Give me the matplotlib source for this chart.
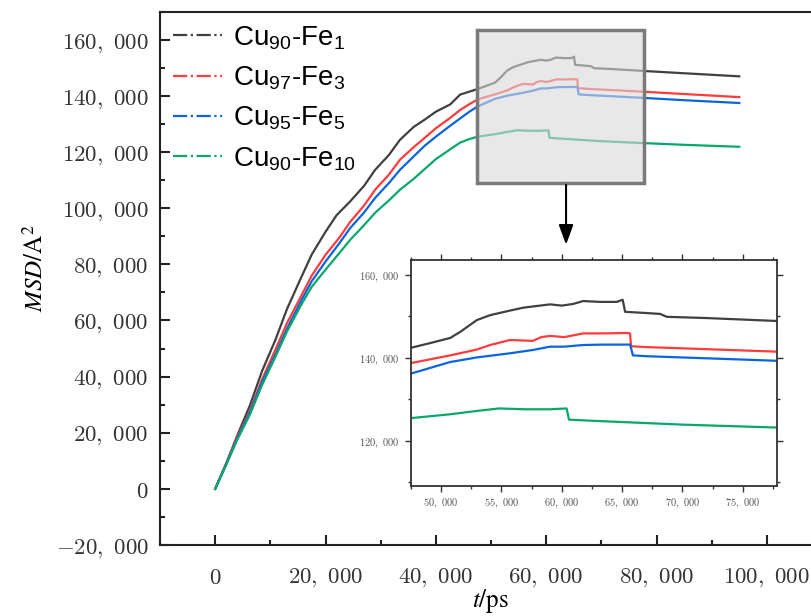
import matplotlib
matplotlib.use("Agg")
import matplotlib.pyplot as plt
from matplotlib.ticker import MultipleLocator, FuncFormatter
from matplotlib.patches import Rectangle

plt.rcParams['mathtext.fontset'] = 'cm'
plt.rcParams['mathtext.rm'] = 'Liberation Sans'

labels = [r"Cu$_{90}$-Fe$_{1}$", r"Cu$_{97}$-Fe$_{3}$", r"Cu$_{95}$-Fe$_{5}$", r"Cu$_{90}$-Fe$_{10}$"]
colors = ['#404040', '#ff3b3b', '#0a64e0', '#07a86a']

t_fe1 = [0, 2000, 4000, 6350, 8500, 10900, 13000, 15400, 17500, 20000, 22000, 24500, 27000, 29000,
         31500, 33500, 36000, 38000, 40000, 42600, 44400, 46000, 47600, 49000, 50750, 51600, 52950,
         54060, 55700, 56800, 59030, 60000, 60940, 61770, 63170, 64550, 65050, 65250, 66500, 68150,
         68700, 72000, 77800, 85000, 95000]
msd_fe1 = [0, 9000, 19000, 30000, 42000, 53000, 64000, 74500, 83500, 91600, 97500, 102500, 108000, 113700,
           119000, 124400, 129000, 131600, 134400, 137000, 140500, 141500, 142500, 143500, 144800, 146300, 149100,
           150300, 151400, 152100, 152900, 152600, 153000, 153700, 153500, 153500, 154000, 151100, 150900, 150600,
           149900, 149600, 148900, 148100, 147000]

t_fe3 = [0, 2000, 4000, 6350, 8500, 10900, 13000, 15400, 17500, 20000, 22500, 24500, 27000, 29000,
         31500, 33500, 36000, 38000, 40000, 42600, 44400, 46000, 47600, 50750, 52950, 54060, 55700,
         57600, 58300, 59030, 60200, 61770, 63500, 65400, 65660, 65740, 67000, 70000, 77800, 85000, 95000]
msd_fe3 = [0, 9000, 18500, 28000, 39000, 49500, 59000, 68000, 76000, 83400, 89500, 95200, 101000, 106600,
           112000, 117300, 121800, 125100, 128500, 132200, 135000, 137000, 138800, 140600, 142000, 143100, 144300,
           144100, 145000, 145300, 145000, 145900, 145900, 146000, 145900, 142800, 142600, 142300, 141500, 140700, 139600]

t_fe5 = [0, 2000, 4000, 6350, 8500, 10900, 13000, 15400, 17500, 20000, 22500, 24500, 27000, 29000,
         31500, 33500, 36000, 38000, 40000, 42600, 44400, 46000, 47600, 50750, 52950, 55700, 57600,
         59030, 60200, 61770, 63500, 65660, 65900, 67000, 70000, 77800, 85000, 95000]
msd_fe5 = [0, 8800, 18000, 27500, 38000, 47800, 57000, 66300, 74000, 81000, 87500, 93000, 98500, 103700,
           109000, 113700, 118500, 122300, 125500, 129400, 132000, 134300, 136300, 139000, 140100, 141100, 141900,
           142700, 142700, 143100, 143200, 143200, 140600, 140400, 140100, 139300, 138500, 137500]

t_fe10 = [0, 2000, 4000, 6350, 8500, 10900, 13000, 15400, 17500, 20000, 22500, 24500, 27000, 29000,
          31500, 33500, 36000, 38000, 40000, 42600, 44400, 46000, 47600, 50750, 52950, 54800, 57000,
          59030, 60400, 60600, 62000, 66000, 70000, 77800, 85000, 95000]
msd_fe10 = [0, 8600, 17500, 26700, 37000, 47000, 56000, 64900, 72000, 78100, 84000, 88800, 94000, 98400,
            102800, 106600, 110500, 114000, 117500, 121000, 123400, 124600, 125500, 126400, 127200, 127800, 127600,
            127600, 127800, 125100, 124900, 124400, 123900, 123200, 122600, 121900]

series = [(t_fe1, msd_fe1), (t_fe3, msd_fe3), (t_fe5, msd_fe5), (t_fe10, msd_fe10)]

main_xticks = [0, 20000, 40000, 60000, 80000, 100000]
main_yticks = [-20000, 0, 20000, 40000, 60000, 80000, 100000, 120000, 140000, 160000]
inset_xticks = [50000, 55000, 60000, 65000, 70000, 75000]
inset_yticks = [120000, 140000, 160000]
zoom_box = (47500, 77800, 109100, 163600)


def fmt(v, pos=None):
    v = int(round(v))
    if v == 0:
        return r"$0$"
    s = f"{abs(v):,}".replace(",", r",\ ")
    return r"$" + ("-" if v < 0 else "") + s + r"$"


fig = plt.figure(figsize=(8.11, 6.16), dpi=100)
ax = fig.add_axes([160/811, 1-545/616, 651/811, (545-11.8)/616])

for (t, m), c, lab in zip(series, colors, labels):
    ax.plot(t, m, color=c, lw=1.6, label=lab)

ax.set_xlim(-10000, 108000)
ax.set_ylim(-20000, 170000)
ax.set_xticks(main_xticks)
ax.set_yticks(main_yticks)
ax.xaxis.set_minor_locator(MultipleLocator(10000))
ax.yaxis.set_minor_locator(MultipleLocator(10000))
ax.xaxis.set_major_formatter(FuncFormatter(fmt))
ax.yaxis.set_major_formatter(FuncFormatter(fmt))
ax.tick_params(which='both', direction='in', width=1.5, colors='#222222', labelcolor='#333333')
ax.tick_params(which='major', length=7, labelsize=16.5)
ax.tick_params(which='minor', length=3.5)
ax.tick_params(axis='y', pad=8)
ax.tick_params(axis='x', pad=15)
ax.spines['right'].set_visible(False)
for s in ['left', 'bottom', 'top']:
    ax.spines[s].set_linewidth(1.5)
    ax.spines[s].set_color('#222222')

yl = ax.set_ylabel(r"$\mathit{MSD}/\mathrm{A}^{2}$", fontsize=18)
yl.set_math_fontfamily('stix')
ax.yaxis.set_label_coords(-0.172, 0.52)
xl = ax.set_xlabel(r"$t/\mathrm{ps}$", fontsize=18)
xl.set_math_fontfamily('stix')
ax.xaxis.set_label_coords(0.507, -0.079)

leg = ax.legend(loc='upper left', bbox_to_anchor=(0.02, 0.977), frameon=False, fontsize=20,
                handlelength=1.75, handletextpad=0.4, labelspacing=0.45, borderaxespad=0, borderpad=0)
for line in leg.get_lines():
    line.set_linestyle('-.')
    line.set_linewidth(1.6)
for txt in leg.get_texts():
    txt.set_fontfamily('Liberation Sans')
    txt.set_math_fontfamily('custom')

x0, x1, y0, y1 = zoom_box
ax.add_patch(Rectangle((x0, y0), x1 - x0, y1 - y0, facecolor=(0.85, 0.85, 0.85, 0.6),
                       edgecolor='#7a7a7a', lw=2.5, zorder=5))
ax.annotate('', xy=(63600, 87000), xytext=(63600, 108300),
            arrowprops=dict(arrowstyle='-|>,head_length=0.6,head_width=0.22', mutation_scale=20,
                            color='black', lw=1.5, shrinkA=0, shrinkB=0), zorder=6)

ins = fig.add_axes([411/811, 1-486/616, (776.5-411)/811, (486-260)/616])
for (t, m), c in zip(series, colors):
    ins.plot(t, m, color=c, lw=1.6)
ins.set_xlim(x0, x1)
ins.set_ylim(y0, y1)
ins.set_xticks(inset_xticks)
ins.set_yticks(inset_yticks)
ins.xaxis.set_minor_locator(MultipleLocator(2500))
ins.yaxis.set_minor_locator(MultipleLocator(10000))
ins.xaxis.set_major_formatter(FuncFormatter(fmt))
ins.yaxis.set_major_formatter(FuncFormatter(fmt))
ins.tick_params(which='both', direction='out', top=True, right=True, width=1.0,
                colors='#333333', labelcolor='#555555')
ins.tick_params(which='major', length=4, labelsize=7.5, pad=4)
ins.tick_params(which='minor', length=2)
for s in ins.spines.values():
    s.set_linewidth(1.3)
    s.set_color('#333333')

fig.savefig('out.png', dpi=100)
